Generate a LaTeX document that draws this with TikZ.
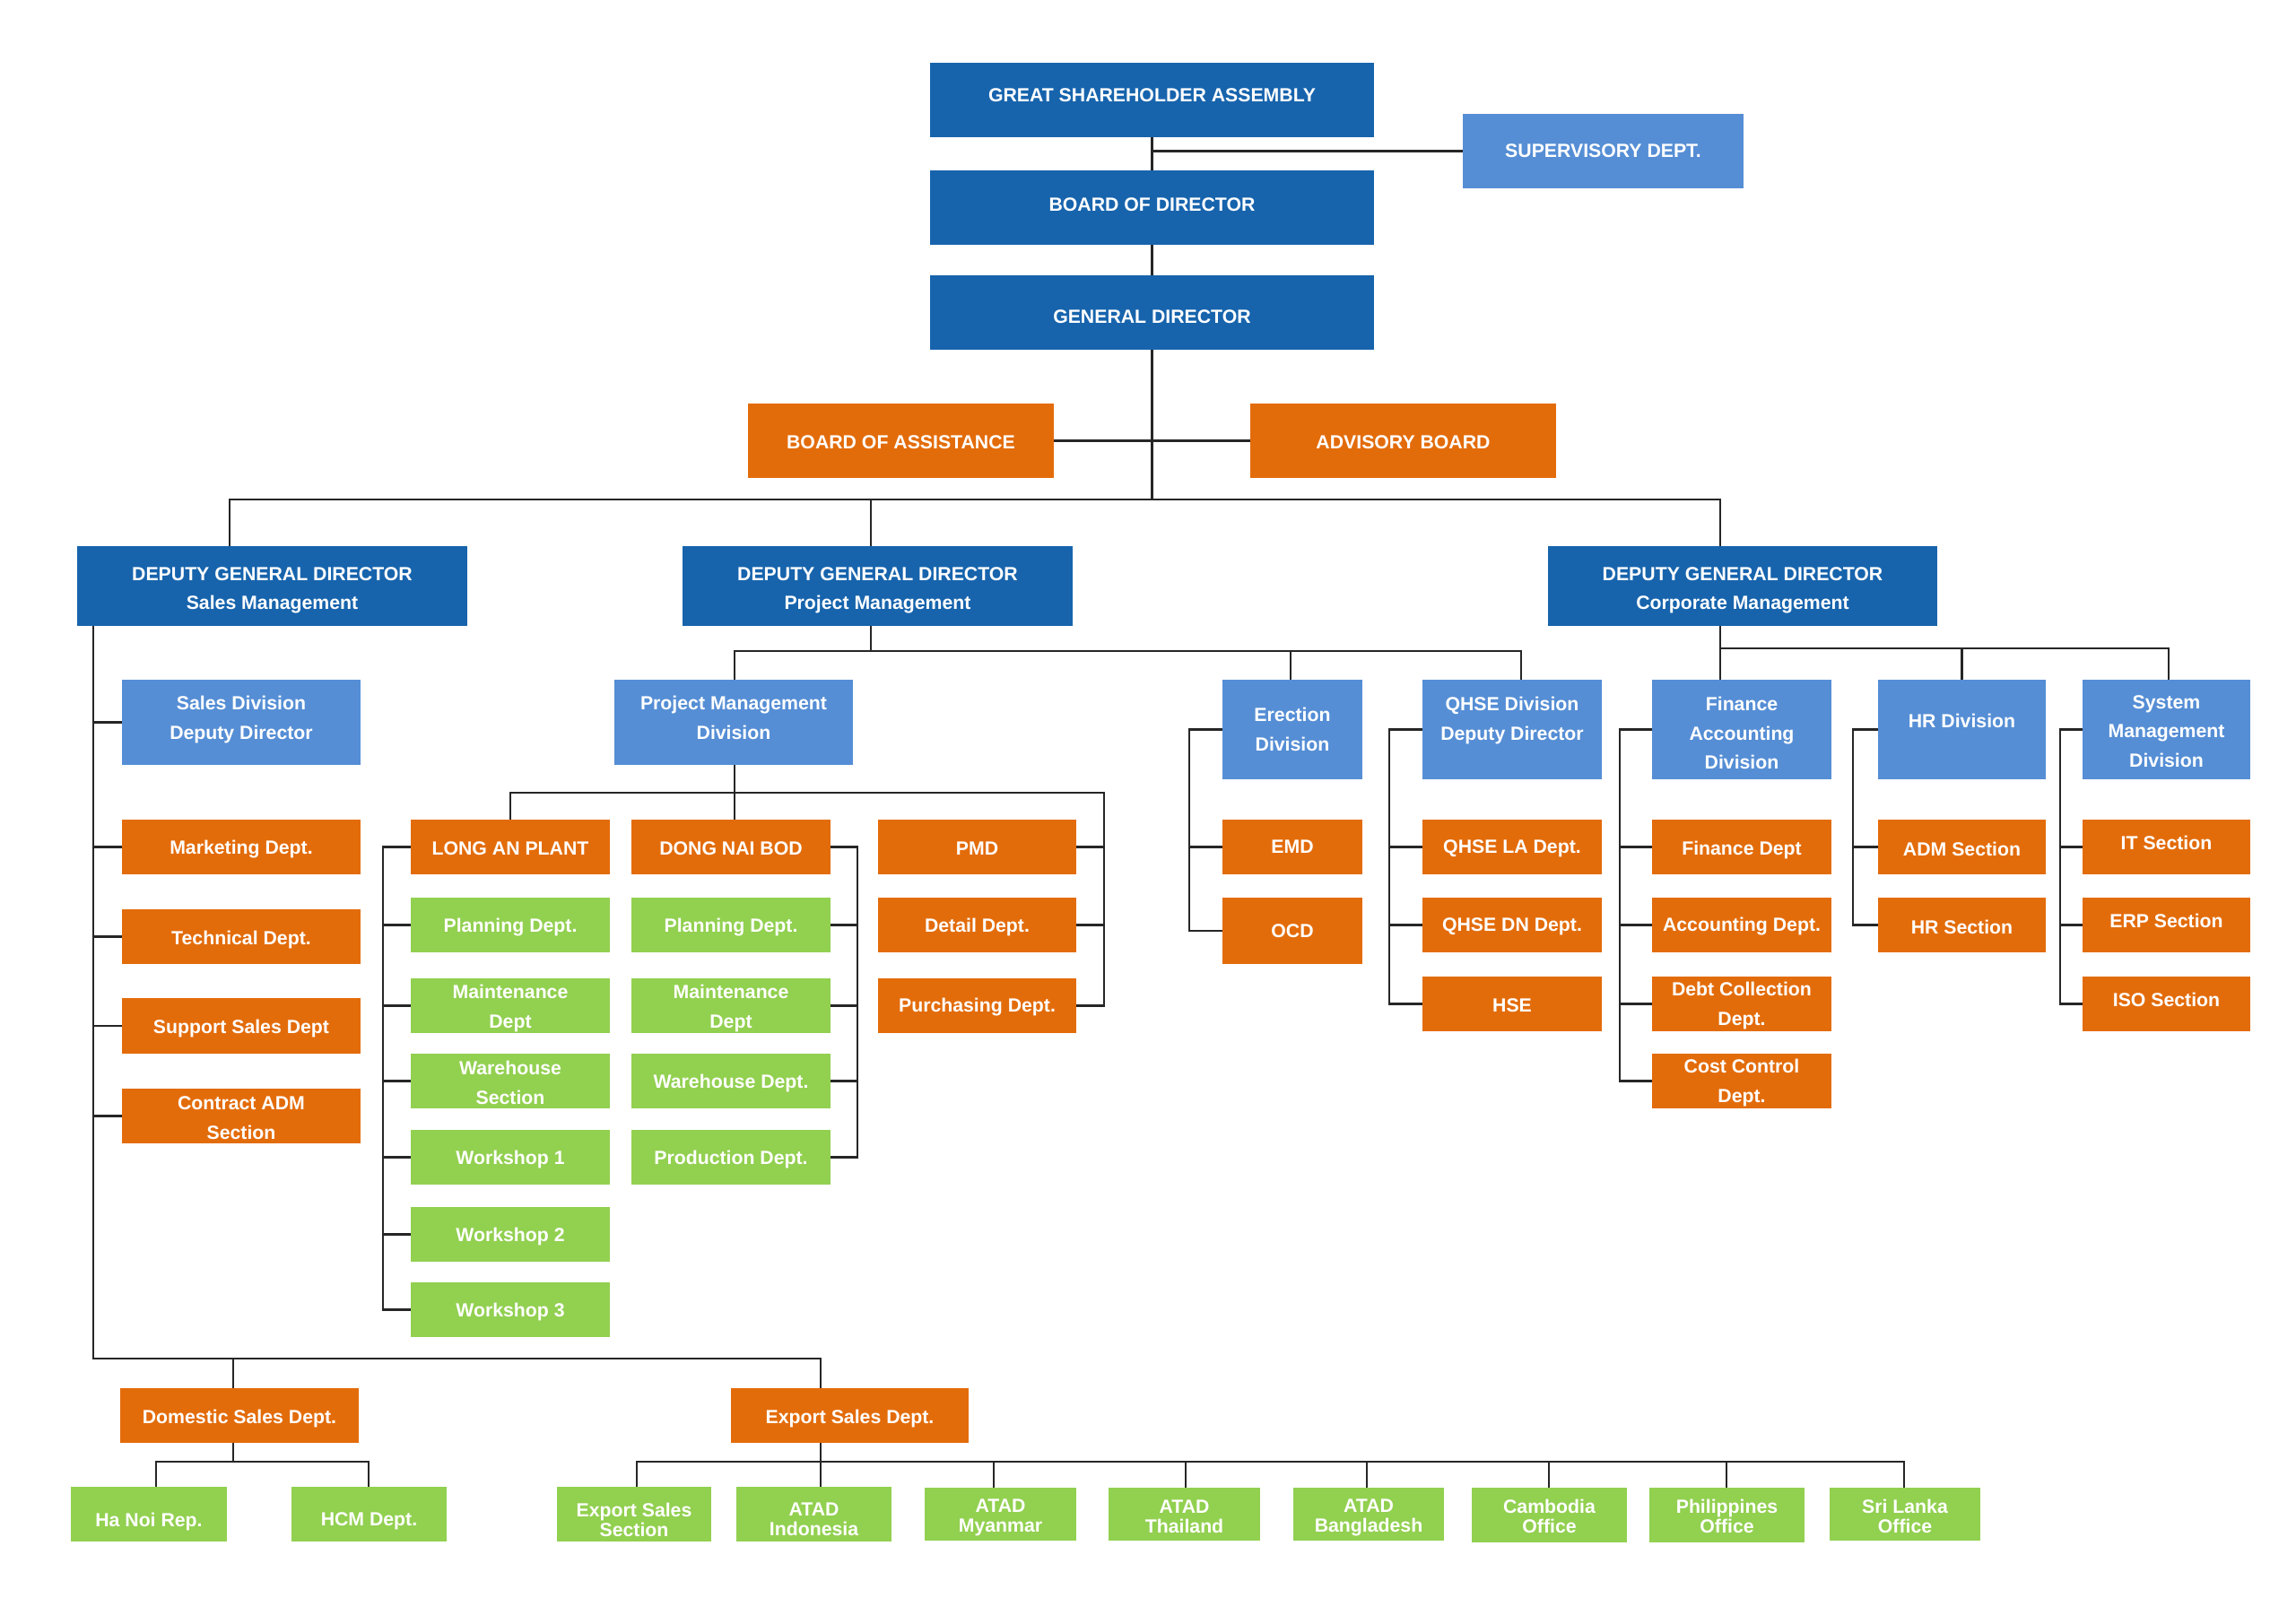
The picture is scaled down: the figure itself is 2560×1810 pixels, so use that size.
\documentclass[tikz,border=0pt]{standalone}
\usepackage{fontspec}
\setmainfont{Liberation Sans}
\definecolor{dblue}{HTML}{1764AD}
\definecolor{lblue}{HTML}{558ED5}
\definecolor{orng}{HTML}{E36C0A}
\definecolor{grn}{HTML}{92D050}
\definecolor{linec}{HTML}{262626}
% \bx[text offset px, + = down]{name}{x1}{y1}{x2}{y2}{style}{text}
\newcommand\bx[8][2]{%
  \node[#7, minimum width={(#5-#3)*0.02cm}, minimum height={(#6-#4)*0.02cm}] (#2) at ({(#3+#5)/2},{(#4+#6)/2}) {};
  \node[#7, fill=none, yshift={-(#1)*0.02cm}] (#2t) at (#2.center) {#8};}
\tikzset{
  boxbase/.style={rectangle, inner sep=0pt, text=white, align=center, font=\fontsize{12.1}{18.5}\selectfont\bfseries},
  bxdark/.style={boxbase, fill=dblue},
  bxlight/.style={boxbase, fill=lblue},
  bxorange/.style={boxbase, fill=orng},
  bxgreen/.style={boxbase, fill=grn},
  bxgreensm/.style={boxbase, fill=grn, font=\fontsize{12.1}{12.6}\selectfont\bfseries},
  conn/.style={draw=linec, line width=1.3pt}
}
\begin{document}
\begin{tikzpicture}[x=0.02cm, y=-0.02cm]
\useasboundingbox[fill=white] (0,0) rectangle (2560,1810);
% top
\bx[-5]{gsa}{1037}{70}{1532}{153}{bxdark}{GREAT SHAREHOLDER ASSEMBLY}
\bx[-3]{bod}{1037}{190}{1532}{273}{bxdark}{BOARD OF DIRECTOR}
\bx[5]{gd}{1037}{307}{1532}{390}{bxdark}{GENERAL DIRECTOR}
\bx[0]{sup}{1631}{127}{1944}{210}{bxlight}{SUPERVISORY DEPT.}
\bx{boa}{834}{450}{1175}{533}{bxorange}{BOARD OF ASSISTANCE}
\bx{adv}{1394}{450}{1735}{533}{bxorange}{ADVISORY BOARD}
% deputies
\bx[5]{dgds}{86}{609}{521}{698}{bxdark}{DEPUTY GENERAL DIRECTOR\\Sales Management}
\bx[5]{dgdp}{761}{609}{1196}{698}{bxdark}{DEPUTY GENERAL DIRECTOR\\Project Management}
\bx[5]{dgdc}{1726}{609}{2160}{698}{bxdark}{DEPUTY GENERAL DIRECTOR\\Corporate Management}
% divisions
\bx[-3]{salesdiv}{136}{758}{402}{853}{bxlight}{Sales Division\\Deputy Director}
\bx[-5]{pmdiv}{685}{758}{951}{853}{bxlight}{Project Management\\Division}
\bx[0]{erect}{1363}{758}{1519}{869}{bxlight}{Erection\\Division}
\bx[-10]{qhse}{1586}{758}{1786}{869}{bxlight}{QHSE Division\\Deputy Director}
\bx[4]{fin}{1842}{758}{2042}{869}{bxlight}{Finance\\Accounting\\Division}
\bx[-10]{hr}{2094}{758}{2281}{869}{bxlight}{HR Division}
\bx[2]{sys}{2322}{758}{2509}{869}{bxlight}{System\\Management\\Division}
% sales column
\bx[3]{mkt}{136}{914}{402}{975}{bxorange}{Marketing Dept.}
\bx[3]{tech}{136}{1014}{402}{1075}{bxorange}{Technical Dept.}
\bx[3]{supp}{136}{1113}{402}{1175}{bxorange}{Support Sales Dept}
\bx{cadm}{136}{1214}{402}{1275}{bxorange}{Contract ADM\\Section}
% project
\bx{longan}{458}{914}{680}{975}{bxorange}{LONG AN PLANT}
\bx{dongnai}{704}{914}{926}{975}{bxorange}{DONG NAI BOD}
\bx{pmd}{979}{914}{1200}{975}{bxorange}{PMD}
\bx{detail}{979}{1001}{1200}{1062}{bxorange}{Detail Dept.}
\bx{purch}{979}{1091}{1200}{1152}{bxorange}{Purchasing Dept.}
\bx[3]{lplan}{458}{1001}{680}{1062}{bxgreen}{Planning Dept.}
\bx[3]{lmaint}{458}{1091}{680}{1152}{bxgreen}{Maintenance\\Dept}
\bx{lware}{458}{1175}{680}{1236}{bxgreen}{Warehouse\\Section}
\bx{ws1}{458}{1260}{680}{1321}{bxgreen}{Workshop 1}
\bx{ws2}{458}{1346}{680}{1407}{bxgreen}{Workshop 2}
\bx{ws3}{458}{1430}{680}{1491}{bxgreen}{Workshop 3}
\bx[3]{dplan}{704}{1001}{926}{1062}{bxgreen}{Planning Dept.}
\bx[3]{dmaint}{704}{1091}{926}{1152}{bxgreen}{Maintenance\\Dept}
\bx{dware}{704}{1175}{926}{1236}{bxgreen}{Warehouse Dept.}
\bx{prod}{704}{1260}{926}{1321}{bxgreen}{Production Dept.}
\bx[0]{emd}{1363}{914}{1519}{975}{bxorange}{EMD}
\bx[0]{ocd}{1363}{1001}{1519}{1075}{bxorange}{OCD}
\bx{qla}{1586}{914}{1786}{975}{bxorange}{QHSE LA Dept.}
\bx{qdn}{1586}{1001}{1786}{1062}{bxorange}{QHSE DN Dept.}
\bx{hse}{1586}{1089}{1786}{1150}{bxorange}{HSE}
% corporate
\bx[3]{find}{1842}{914}{2042}{975}{bxorange}{Finance Dept}
\bx{acc}{1842}{1001}{2042}{1062}{bxorange}{Accounting Dept.}
\bx{debt}{1842}{1089}{2042}{1150}{bxorange}{Debt Collection\\Dept.}
\bx{cost}{1842}{1175}{2042}{1236}{bxorange}{Cost Control\\Dept.}
\bx{adm}{2094}{914}{2281}{975}{bxorange}{ADM Section}
\bx{hrs}{2094}{1001}{2281}{1062}{bxorange}{HR Section}
\bx[-5]{it}{2322}{914}{2509}{975}{bxorange}{IT Section}
\bx[-5]{erp}{2322}{1001}{2509}{1062}{bxorange}{ERP Section}
\bx[-5]{iso}{2322}{1089}{2509}{1150}{bxorange}{ISO Section}
% bottom
\bx[3]{dom}{134}{1548}{400}{1609}{bxorange}{Domestic Sales Dept.}
\bx[3]{exp}{815}{1548}{1080}{1609}{bxorange}{Export Sales Dept.}
\bx[8]{hanoi}{79}{1658}{253}{1719}{bxgreen}{Ha Noi Rep.}
\bx[8]{hcm}{325}{1658}{498}{1719}{bxgreen}{HCM Dept.}
\bx[6]{ess}{621}{1658}{793}{1719}{bxgreensm}{Export Sales\\Section}
\bx[6]{indo}{821}{1658}{994}{1719}{bxgreensm}{ATAD\\Indonesia}
\bx[4]{myan}{1031}{1659}{1200}{1718}{bxgreensm}{ATAD\\Myanmar}
\bx[3]{thai}{1236}{1659}{1405}{1718}{bxgreensm}{ATAD\\Thailand}
\bx[4]{bang}{1442}{1659}{1610}{1718}{bxgreensm}{ATAD\\Bangladesh}
\bx[1]{camb}{1641}{1659}{1814}{1720}{bxgreensm}{Cambodia\\Office}
\bx[1]{phil}{1839}{1659}{2012}{1720}{bxgreensm}{Philippines\\Office}
\bx[2]{sri}{2040}{1659}{2208}{1718}{bxgreensm}{Sri Lanka\\Office}
% ---------- connectors ----------
\draw[conn] (gsa.south) -- (bod.north);
\draw[conn] (bod.south) -- (gd.north);
\draw[conn] (sup.west) -- (sup.west -| gsa.south);
\draw[conn] (boa.east) -- (adv.west);
\coordinate (tbL) at (256,557);
\coordinate (tbR) at (1918,557);
\coordinate (tbM) at (971,557);
\draw[conn] (gd.south) -- (gd.south |- tbL);
\draw[conn] (dgds.north -| tbL) -- (tbL) -- (tbR) -- (dgdc.north -| tbR);
\draw[conn] (tbM) -- (dgdp.north -| tbM);
% project management
\coordinate (pbL) at (819,726);
\coordinate (pbR) at (1696,726);
\coordinate (pbE) at (1439,726);
\draw[conn] (dgdp.south -| tbM) -- (tbM |- pbL);
\draw[conn] (pmdiv.north -| pbL) -- (pbL) -- (pbR) -- (qhse.north -| pbR);
\draw[conn] (pbE) -- (erect.north -| pbE);
\coordinate (lbL) at (569,884);
\coordinate (lbR) at (1231,884);
\draw[conn] (pmdiv.south -| pbL) -- (dongnai.north -| pbL);
\draw[conn] (longan.north -| lbL) -- (lbL) -- (lbR) |- (purch.east);
\draw[conn] (pmd.east) -- (pmd.east -| lbR);
\draw[conn] (detail.east) -- (detail.east -| lbR);
\coordinate (lax) at (427,0);
\draw[conn] (longan.west) -- (longan.west -| lax) |- (ws3.west);
\foreach \n in {lplan,lmaint,lware,ws1,ws2} \draw[conn] (\n.west) -- (\n.west -| lax);
\coordinate (dnx) at (956,0);
\draw[conn] (dongnai.east) -- (dongnai.east -| dnx) |- (prod.east);
\foreach \n in {dplan,dmaint,dware} \draw[conn] (\n.east) -- (\n.east -| dnx);
\coordinate (erx) at (1326,0);
\draw[conn] (erect.west) -- (erect.west -| erx) |- (ocd.west);
\draw[conn] (emd.west) -- (emd.west -| erx);
\coordinate (qx) at (1549,0);
\draw[conn] (qhse.west) -- (qhse.west -| qx) |- (hse.west);
\foreach \n in {qla,qdn} \draw[conn] (\n.west) -- (\n.west -| qx);
% corporate
\coordinate (cbL) at (1918,723);
\coordinate (cbR) at (2418,723);
\draw[conn] (dgdc.south -| cbL) -- (fin.north -| cbL);
\draw[conn] (cbL) -- (cbR) -- (sys.north -| cbR);
\draw[conn] (hr.north) -- (hr.north |- cbL);
\coordinate (fx) at (1806,0);
\draw[conn] (fin.west) -- (fin.west -| fx) |- (cost.west);
\foreach \n in {find,acc,debt} \draw[conn] (\n.west) -- (\n.west -| fx);
\coordinate (hx) at (2066,0);
\draw[conn] (hr.west) -- (hr.west -| hx) |- (hrs.west);
\draw[conn] (adm.west) -- (adm.west -| hx);
\coordinate (syx) at (2297,0);
\draw[conn] (sys.west) -- (sys.west -| syx) |- (iso.west);
\foreach \n in {it,erp} \draw[conn] (\n.west) -- (\n.west -| syx);
% sales
\coordinate (stx) at (104,0);
\coordinate (sbL) at (104,1515);
\coordinate (sbR) at (915,1515);
\coordinate (sbD) at (260,1515);
\draw[conn] (dgds.south -| stx) -- (sbL) -- (sbR) -- (exp.north -| sbR);
\foreach \n in {salesdiv,mkt,tech,supp,cadm} \draw[conn] (\n.west) -- (\n.west -| stx);
\draw[conn] (sbD) -- (dom.north -| sbD);
\coordinate (dbx) at (260,1630);
\coordinate (dbL) at (174,1630);
\coordinate (dbR) at (411,1630);
\draw[conn] (dom.south -| dbx) -- (dbx);
\draw[conn] (hanoi.north -| dbL) -- (dbL) -- (dbR) -- (hcm.north -| dbR);
% export
\coordinate (ebL) at (710,1630);
\coordinate (ebR) at (2123,1630);
\draw[conn] (exp.south -| sbR) -- (indo.north -| sbR);
\draw[conn] (ess.north -| ebL) -- (ebL) -- (ebR) -- (sri.north -| ebR);
\coordinate (em1) at (1108,1630);
\coordinate (em2) at (1322,1630);
\coordinate (em3) at (1524,1630);
\coordinate (em4) at (1727,1630);
\coordinate (em5) at (1925,1630);
\draw[conn] (em1) -- (myan.north -| em1);
\draw[conn] (em2) -- (thai.north -| em2);
\draw[conn] (em3) -- (bang.north -| em3);
\draw[conn] (em4) -- (camb.north -| em4);
\draw[conn] (em5) -- (phil.north -| em5);
\end{tikzpicture}
\end{document}
